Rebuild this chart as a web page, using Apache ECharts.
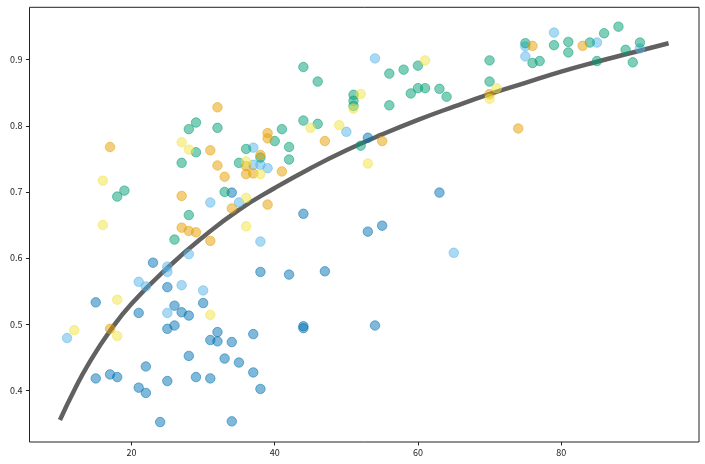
<!DOCTYPE html>
<html>
<head>
<meta charset="utf-8">
<script src="https://cdn.jsdelivr.net/npm/echarts@6/dist/echarts.min.js"></script>
<style>html,body{margin:0;padding:0;background:#fff;}#c{width:705px;height:464px;}</style>
</head>
<body>
<div id="c"></div>
<script>
// ---- data ----
const groupBlue = [[15,0.533],[23,0.593],[25,0.556],[21,0.517],[26,0.528],[27,0.518],[28,0.513],[30,0.532],[25,0.493],[26,0.498],[31,0.476],[32,0.488],[32,0.474],[34,0.473],[28,0.452],[33,0.448],[35,0.442],[15,0.418],[17,0.424],[18,0.420],[22,0.436],[21,0.404],[22,0.396],[25,0.414],[29,0.420],[31,0.418],[24,0.352],[34,0.353],[37,0.485],[37,0.427],[38,0.402],[38,0.579],[42,0.575],[47,0.580],[44,0.497],[44,0.494],[54,0.498],[53,0.640],[55,0.649],[34,0.699],[44,0.667],[63,0.699],[53,0.782]];
const groupSky = [[11,0.479],[21,0.564],[22,0.557],[25,0.587],[25,0.579],[27,0.559],[28,0.606],[30,0.551],[25,0.517],[38,0.625],[65,0.608],[31,0.684],[35,0.684],[37,0.767],[37,0.741],[38,0.741],[39,0.736],[50,0.791],[54,0.902],[79,0.941],[75,0.920],[75,0.905],[85,0.926],[91,0.917]];
const groupGreen = [[18,0.693],[19,0.702],[28,0.795],[29,0.805],[32,0.797],[27,0.744],[29,0.760],[33,0.700],[28,0.665],[35,0.744],[26,0.628],[36,0.765],[38,0.752],[40,0.777],[41,0.795],[42,0.768],[42,0.749],[44,0.889],[46,0.867],[44,0.808],[46,0.803],[51,0.847],[51,0.838],[51,0.830],[52,0.770],[56,0.879],[58,0.885],[60,0.891],[56,0.831],[59,0.849],[60,0.857],[61,0.857],[63,0.856],[64,0.844],[70,0.899],[70,0.867],[75,0.925],[76,0.895],[77,0.898],[79,0.922],[81,0.927],[81,0.911],[84,0.926],[85,0.898],[86,0.940],[88,0.950],[89,0.915],[90,0.896],[91,0.926]];
const groupOrange = [[17,0.768],[32,0.828],[31,0.763],[32,0.740],[33,0.723],[27,0.694],[27,0.646],[28,0.641],[29,0.639],[31,0.626],[17,0.493],[34,0.675],[39,0.789],[39,0.781],[38,0.756],[36,0.739],[36,0.727],[37,0.728],[41,0.731],[39,0.681],[47,0.777],[55,0.777],[70,0.848],[76,0.921],[83,0.921],[74,0.796]];
const groupYellow = [[16,0.717],[16,0.650],[27,0.775],[28,0.764],[12,0.491],[18,0.537],[18,0.482],[31,0.514],[36,0.746],[38,0.727],[36,0.691],[36,0.648],[45,0.797],[49,0.801],[51,0.826],[52,0.848],[53,0.743],[61,0.899],[70,0.841],[71,0.857]];
const curveX = [10,12,14,17,20,25,30,35,40,45,50,55,60,65,70,75,80,85,90,95];
const curveY = [0.355,0.400,0.440,0.490,0.531,0.585,0.632,0.673,0.706,0.736,0.763,0.787,0.809,0.829,0.848,0.865,0.882,0.897,0.911,0.925];
const xTicks = [20,40,60,80];
const yTicks = [0.4,0.5,0.6,0.7,0.8,0.9];

const colors = ['#0072B2','#56B4E9','#009E73','#E69F00','#F0E442'];
const groups = [groupBlue, groupSky, groupGreen, groupOrange, groupYellow];

const chart = echarts.init(document.getElementById('c'), null, {renderer:'canvas'});
const font = '"Noto Sans CJK SC", "DejaVu Sans", sans-serif';
const series = [{
  type:'line', data: curveX.map((x,i)=>[x,curveY[i]]), smooth:true, showSymbol:false, symbol:'none',
  lineStyle:{color:'#616161', width:4.5}, z:1, silent:true
}];
groups.forEach((g,i)=>{
  series.push({
    type:'scatter', data:g, symbol:'circle', symbolSize:9.5, z:2+i,
    itemStyle:{color:colors[i], opacity:0.5, borderColor:colors[i], borderWidth:1}
  });
});
chart.setOption({
  animation:false,
  backgroundColor:'#fff',
  grid:{left:29.5, right:6, top:7.3, bottom:22, show:true, borderColor:'#222', borderWidth:1},
  xAxis:{type:'value', min:5.75, max:99.25,
    axisLine:{show:false}, splitLine:{show:false},
    axisTick:{show:true, inside:false, length:3.5, lineStyle:{color:'#222'}, customValues:xTicks},
    axisLabel:{color:'#222', fontSize:9, fontFamily:font, margin:6, customValues:xTicks, formatter:v=>String(v)}},
  yAxis:{type:'value', min:0.3218, max:0.9793,
    axisLine:{show:false}, splitLine:{show:false},
    axisTick:{show:true, inside:false, length:3.5, lineStyle:{color:'#222'}, customValues:yTicks},
    axisLabel:{color:'#222', fontSize:9, fontFamily:font, margin:7, customValues:yTicks, formatter:v=>v.toFixed(1)}},
  series:series
});
</script>
</body>
</html>
